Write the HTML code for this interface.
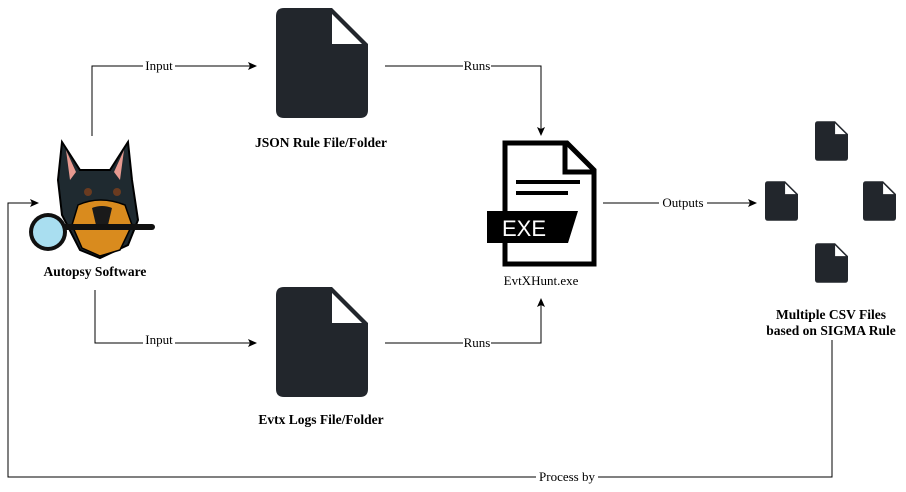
<!DOCTYPE html>
<html><head><meta charset="utf-8"><style>
body{margin:0;background:#fff;width:906px;height:487px;overflow:hidden}
svg text{font-family:"Liberation Serif",serif;font-size:13px;fill:#000}
.b{font-weight:bold;font-size:13.5px}
</style></head><body>
<svg width="906" height="487" viewBox="0 0 906 487">
<defs>
<marker id="a" markerWidth="10" markerHeight="10" refX="8" refY="4" orient="auto" markerUnits="userSpaceOnUse"><path d="M0,0 L9,4 L0,8 L2,4z" fill="#000"/></marker>
<symbol id="doc" viewBox="0 0 92 110"><path d="M8,0 H56 L92,36 V102 Q92,110 84,110 H8 Q0,110 0,102 V8 Q0,0 8,0z" fill="#22262c"/><path d="M56,6 V36 H86z" fill="#fff"/></symbol>
</defs>
<g fill="none" stroke="#000" stroke-width="1">
<path d="M92,136 V66 H256" marker-end="url(#a)"/>
<path d="M385,66 H541 V135" marker-end="url(#a)"/>
<path d="M95,290 V343 H256" marker-end="url(#a)"/>
<path d="M385,343 H541 V299" marker-end="url(#a)"/>
<path d="M603,203 H756" marker-end="url(#a)"/>
<path d="M832,340 V477 H8 V203 H38" marker-end="url(#a)"/>
</g>
<g fill="#fff">
<rect x="143" y="59" width="32" height="14"/><rect x="463" y="59" width="28" height="14"/>
<rect x="143" y="333" width="32" height="14"/><rect x="463" y="336" width="28" height="14"/>
<rect x="659" y="196" width="48" height="14"/><rect x="536" y="470" width="62" height="14"/>
</g>
<text x="159" y="70" text-anchor="middle">Input</text>
<text x="477" y="70" text-anchor="middle">Runs</text>
<text x="159" y="344" text-anchor="middle">Input</text>
<text x="477" y="347" text-anchor="middle">Runs</text>
<text x="683" y="207" text-anchor="middle">Outputs</text>
<text x="567" y="481" text-anchor="middle">Process by</text>
<use href="#doc" x="276" y="8" width="92" height="110"/>
<use href="#doc" x="276" y="287" width="92" height="110"/>
<text class="b" x="321" y="147" text-anchor="middle">JSON Rule File/Folder</text>
<text class="b" x="321" y="424" text-anchor="middle">Evtx Logs File/Folder</text>
<path d="M505,143 H567 L594,170 V264 H505z" fill="none" stroke="#000" stroke-width="5"/>
<path d="M565,143 V172 H594" fill="none" stroke="#000" stroke-width="5"/>
<rect x="516" y="180" width="64" height="4" fill="#000"/><rect x="516" y="191" width="52" height="4" fill="#000"/>
<path d="M487,211 H578 L568,243 H487z" fill="#000"/>
<text x="524" y="236" text-anchor="middle" style="font-family:'Liberation Sans',sans-serif;font-size:22px;fill:#fff" textLength="44">EXE</text>
<text x="541" y="285" text-anchor="middle">EvtXHunt.exe</text>
<use href="#doc" x="815" y="120" width="33" height="42"/>
<use href="#doc" x="765" y="180" width="33" height="42"/>
<use href="#doc" x="863" y="180" width="33" height="42"/>
<use href="#doc" x="815" y="242" width="33" height="42"/>
<text class="b" x="831" y="319" text-anchor="middle">Multiple CSV Files</text>
<text class="b" x="831" y="335" text-anchor="middle">based on SIGMA Rule</text>
<path d="M62,142 L80,170 L110,170 L128,142 L132,180 L138,220 L128,245 L100,258 L80,250 L62,215 L58,180z" fill="#1f2a30" stroke="#000" stroke-width="2"/>
<path d="M66,150 L76,172 L70,180z M124,150 L114,172 L120,180z" fill="#e89a90"/>
<path d="M78,205 Q100,195 125,205 L132,225 L120,250 L100,256 L82,248 L72,225z" fill="#d98b1e" stroke="#000" stroke-width="1.5"/>
<path d="M92,208 Q102,204 112,208 L108,225 L96,225z" fill="#1a1a1a"/>
<circle cx="88" cy="192" r="4" fill="#6a3b20"/><circle cx="117" cy="192" r="4" fill="#6a3b20"/>
<rect x="60" y="224" width="95" height="6" rx="3" fill="#111"/>
<circle cx="48" cy="232" r="19" fill="#111"/><circle cx="48" cy="232" r="15" fill="#a9def0"/>
<text class="b" x="95" y="276" text-anchor="middle">Autopsy Software</text>
</svg>
</body></html>
